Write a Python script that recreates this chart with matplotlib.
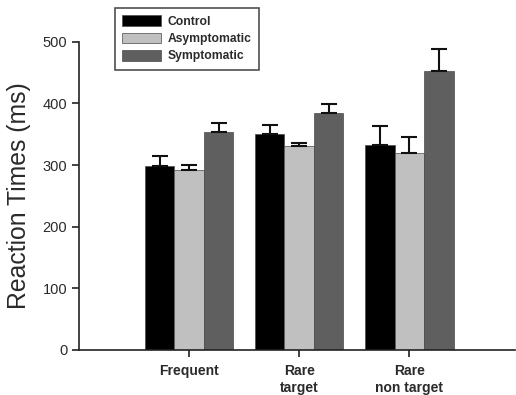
import matplotlib
matplotlib.use("Agg")
import matplotlib.pyplot as plt
import numpy as np

plt.rcParams['font.family'] = ['Liberation Sans', 'DejaVu Sans']

categories = ["Frequent", "Rare\ntarget", "Rare\nnon target"]
series_names = ["Control", "Asymptomatic", "Symptomatic"]
control = [299, 350, 332]
asymptomatic = [292, 331, 319]
symptomatic = [353, 384, 452]
control_err = [16, 15, 32]
asymptomatic_err = [8, 5, 26]
symptomatic_err = [16, 15, 37]
y_ticks = [0, 100, 200, 300, 400, 500]

colors = ["#000000", "#c0c0c0", "#5f5f5f"]
values = [control, asymptomatic, symptomatic]
errors = [control_err, asymptomatic_err, symptomatic_err]

fig = plt.figure(figsize=(5.16, 3.95), dpi=100)
ax = fig.add_axes([0.153, 0.114, 0.845, 0.78])

x = np.arange(1, len(categories) + 1)
w = 0.268
for i, (vals, errs, c, name) in enumerate(zip(values, errors, colors, series_names)):
    pos = x + (i - 1) * w
    ax.bar(pos, vals, width=w, color=c, edgecolor="#4a4a4a", linewidth=0.5, label=name, zorder=2)
    ax.errorbar(pos, vals, yerr=[np.zeros(len(errs)), errs], fmt="none", ecolor="#111111",
                elinewidth=1.5, capsize=5.5, capthick=1.5, zorder=3)

tc = "#2a2a2a"
ax.set_xlim(0.0, 3.96)
ax.set_ylim(0, 500)
ax.set_yticks(y_ticks)
ax.set_yticklabels([str(v) for v in y_ticks], fontsize=10.5, color=tc)
ax.set_xticks(x)
ax.set_xticklabels(categories, fontsize=10, fontweight="bold", linespacing=1.3, color=tc)
ax.spines["top"].set_visible(False)
ax.spines["right"].set_visible(False)
for s in ["left", "bottom"]:
    ax.spines[s].set_linewidth(1.2)
    ax.spines[s].set_color("#222222")
ax.tick_params(axis="both", direction="out", length=5, width=1.2, color="#222222")
ax.tick_params(axis="x", pad=5)
ax.set_ylabel("Reaction Times (ms)", fontsize=17.8, labelpad=8, color=tc)

leg = ax.legend(loc="upper left", bbox_to_anchor=(0.082, 1.11), fontsize=8.7,
                frameon=True, fancybox=False, edgecolor="#222222",
                handlelength=3.2, handleheight=0.95, handletextpad=0.6,
                labelspacing=0.42, borderpad=0.6, borderaxespad=0)
leg.get_frame().set_linewidth(1.2)
for t in leg.get_texts():
    t.set_fontweight("bold")
    t.set_color(tc)

fig.savefig("out.png", dpi=100)
